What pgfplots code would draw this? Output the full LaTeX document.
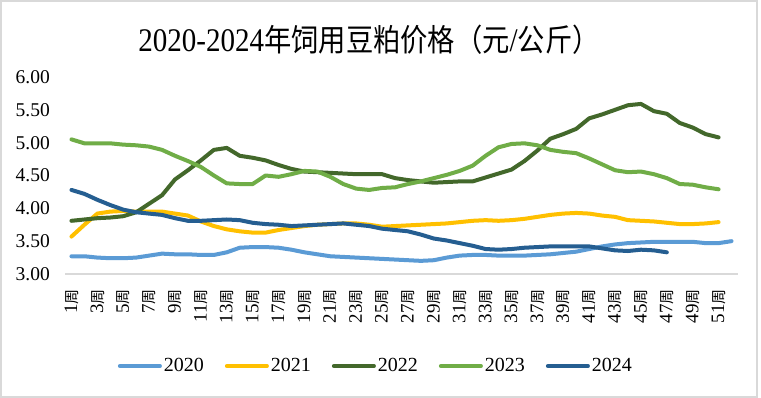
\documentclass[border=0pt]{standalone}
\usepackage{fontspec}
\setmainfont{Liberation Serif}
\newfontfamily\cjk{Noto Sans CJK SC}
\usepackage{pgfplots}
\usepackage{pgfplotstable}
\pgfplotsset{compat=1.18}

\definecolor{c20}{HTML}{5B9BD5}
\definecolor{c21}{HTML}{FFC000}
\definecolor{c22}{HTML}{43682B}
\definecolor{c23}{HTML}{70AD47}
\definecolor{c24}{HTML}{255E91}
\definecolor{bord}{HTML}{D9D9D9}

\newcommand{\wk}[1]{#1{\fontsize{15}{15}\cjk 周}}

\pgfplotstableread{
w v
1 3.27
2 3.27
3 3.25
4 3.24
5 3.24
6 3.25
7 3.28
8 3.31
9 3.30
10 3.30
11 3.29
12 3.29
13 3.33
14 3.40
15 3.41
16 3.41
17 3.40
18 3.37
19 3.33
20 3.30
21 3.27
22 3.26
23 3.25
24 3.24
25 3.23
26 3.22
27 3.21
28 3.20
29 3.21
30 3.25
31 3.28
32 3.29
33 3.29
34 3.28
35 3.28
36 3.28
37 3.29
38 3.30
39 3.32
40 3.34
41 3.38
42 3.42
43 3.45
44 3.47
45 3.48
46 3.49
47 3.49
48 3.49
49 3.49
50 3.47
51 3.47
52 3.50
}\tA

\pgfplotstableread{
w v
1 3.57
2 3.75
3 3.92
4 3.95
5 3.96
6 3.95
7 3.95
8 3.95
9 3.92
10 3.89
11 3.80
12 3.73
13 3.68
14 3.65
15 3.63
16 3.63
17 3.67
18 3.70
19 3.73
20 3.75
21 3.76
22 3.77
23 3.77
24 3.75
25 3.72
26 3.73
27 3.74
28 3.75
29 3.76
30 3.77
31 3.79
32 3.81
33 3.82
34 3.81
35 3.82
36 3.84
37 3.87
38 3.90
39 3.92
40 3.93
41 3.92
42 3.89
43 3.87
44 3.82
45 3.81
46 3.80
47 3.78
48 3.76
49 3.76
50 3.77
51 3.79
}\tB

\pgfplotstableread{
w v
1 3.81
2 3.83
3 3.85
4 3.86
5 3.88
6 3.94
7 4.07
8 4.20
9 4.44
10 4.58
11 4.73
12 4.89
13 4.92
14 4.80
15 4.77
16 4.73
17 4.66
18 4.60
19 4.56
20 4.55
21 4.54
22 4.53
23 4.52
24 4.52
25 4.52
26 4.46
27 4.43
28 4.41
29 4.39
30 4.40
31 4.41
32 4.41
33 4.47
34 4.53
35 4.59
36 4.72
37 4.88
38 5.06
39 5.13
40 5.21
41 5.37
42 5.43
43 5.50
44 5.57
45 5.59
46 5.48
47 5.44
48 5.30
49 5.23
50 5.13
51 5.08
}\tC

\pgfplotstableread{
w v
1 5.05
2 4.99
3 4.99
4 4.99
5 4.97
6 4.96
7 4.94
8 4.89
9 4.80
10 4.72
11 4.63
12 4.50
13 4.38
14 4.37
15 4.37
16 4.50
17 4.48
18 4.52
19 4.57
20 4.56
21 4.48
22 4.37
23 4.30
24 4.28
25 4.31
26 4.32
27 4.37
28 4.41
29 4.46
30 4.51
31 4.57
32 4.65
33 4.80
34 4.93
35 4.98
36 4.99
37 4.96
38 4.89
39 4.86
40 4.84
41 4.76
42 4.67
43 4.58
44 4.55
45 4.56
46 4.52
47 4.46
48 4.37
49 4.36
50 4.32
51 4.29
}\tD

\pgfplotstableread{
w v
1 4.28
2 4.22
3 4.13
4 4.05
5 3.98
6 3.94
7 3.92
8 3.90
9 3.85
10 3.81
11 3.81
12 3.82
13 3.83
14 3.82
15 3.78
16 3.76
17 3.75
18 3.73
19 3.74
20 3.75
21 3.76
22 3.77
23 3.75
24 3.73
25 3.69
26 3.67
27 3.65
28 3.60
29 3.54
30 3.51
31 3.47
32 3.43
33 3.38
34 3.37
35 3.38
36 3.40
37 3.41
38 3.42
39 3.42
40 3.42
41 3.42
42 3.39
43 3.36
44 3.35
45 3.37
46 3.36
47 3.33
}\tE

\begin{document}
\begin{tikzpicture}[x=1pt,y=1pt]
\useasboundingbox (0,0) rectangle (761,398);
\fill[white] (0,0) rectangle (761,398);
\draw[bord, line width=1.5pt] (1,1) rectangle (757,397);
\node at (369,358) {\scalebox{0.88}[1]{\fontsize{33}{33}\selectfont 2020-2024{\fontsize{31}{31}\cjk 年饲用豆粕价格（元}/{\fontsize{31}{31}\cjk 公斤）}}};
\begin{axis}[
  at={(65pt,124pt)}, anchor=south west,
  scale only axis, width=673pt, height=197pt,
  xmin=0.5, xmax=52.5, ymin=3, ymax=6,
  axis line style={draw=none},
  major tick length=0pt,
  ytick={3,3.5,4,4.5,5,5.5,6},
  yticklabel style={/pgf/number format/fixed, /pgf/number format/fixed zerofill, /pgf/number format/precision=2, /pgf/number format/assume math mode=true},
  y tick label style={font=\fontsize{19.5}{20}\selectfont, inner sep=0pt, anchor=east},
  yticklabel shift=15pt,
  xtick={1,3,...,51},
  xticklabels={\wk{1},\wk{3},\wk{5},\wk{7},\wk{9},\wk{11},\wk{13},\wk{15},\wk{17},\wk{19},\wk{21},\wk{23},\wk{25},\wk{27},\wk{29},\wk{31},\wk{33},\wk{35},\wk{37},\wk{39},\wk{41},\wk{43},\wk{45},\wk{47},\wk{49},\wk{51}},
  x tick label style={font=\fontsize{19}{19}\selectfont, rotate=90, anchor=east, inner sep=0pt},
  xticklabel shift=15pt,
  clip=false,
  every axis plot/.append style={line width=4pt, line join=round, line cap=round, mark=none},
  legend columns=5,
  legend style={at={(0.462,-0.467)}, anchor=center, draw=none, fill=none,
    font=\fontsize{20}{20}\selectfont,
    /tikz/every even column/.append style={column sep=19pt}},
  legend image code/.code={\draw[#1] (0pt,0pt) -- (40pt,0pt);},
]
\draw[bord, line width=1.5pt] (axis cs:0.5,3) -- (axis cs:52.5,3);
\addplot[c20] table[x=w,y=v] {\tA};
\addplot[c21] table[x=w,y=v] {\tB};
\addplot[c22] table[x=w,y=v] {\tC};
\addplot[c23] table[x=w,y=v] {\tD};
\addplot[c24] table[x=w,y=v] {\tE};
\legend{2020,2021,2022,2023,2024}
\end{axis}
\end{tikzpicture}
\end{document}
